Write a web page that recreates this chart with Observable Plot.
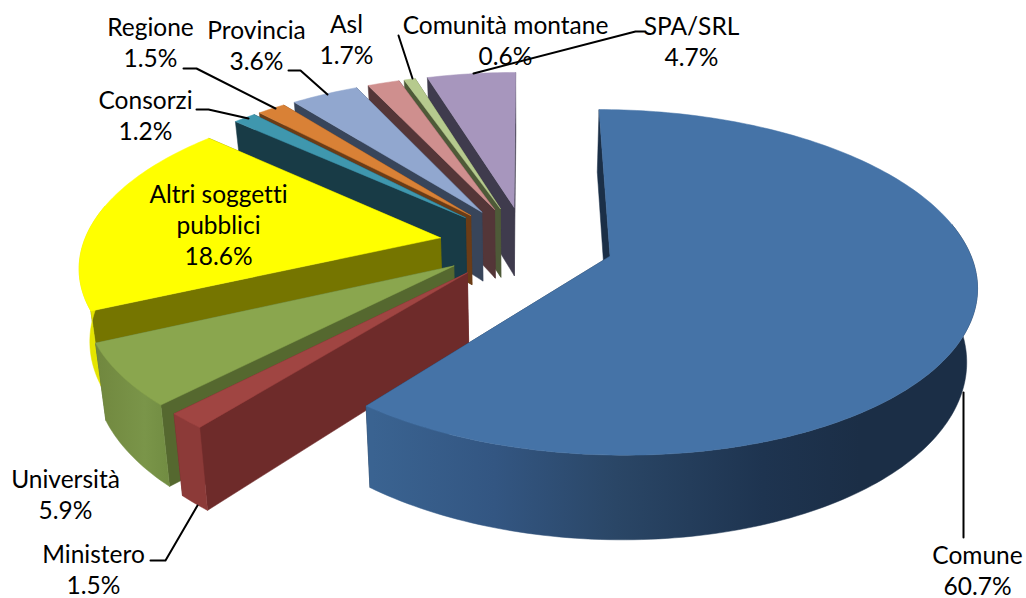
<!DOCTYPE html>
<html>
<head>
<meta charset="utf-8">
<script src="https://cdn.jsdelivr.net/npm/d3@7"></script>
<script src="https://cdn.jsdelivr.net/npm/@observablehq/plot@0.6"></script>
<style>html,body{margin:0;padding:0;background:#fff}svg{display:block}text{font-variant-ligatures:none}</style>
</head>
<body>
<div id="chart"></div>
<script>
const categories = ["Comune","Ministero","Università","Altri soggetti\npubblici","Consorzi","Regione","Provincia","Asl","Comunità montane","SPA/SRL"];
const values = [60.7,1.5,5.9,18.6,1.2,1.5,3.6,1.7,0.6,4.7];

// styles
const topColors = ["#4573a7","#a04542","#8aa64e","#ffff00","#3f97ae","#d98136","#91a7cf","#cf8f8e","#b6ca8e","#a796bd"];
const cutColors = ["#1b2f47","#6e2b2a","#55682f","#757500","#183b46","#6b3c16","#38455a","#543638","#4e5a38","#3f3b4d"];
const outerColors = ["url(#blueWall)","#8c3a38","url(#greenWall)","#e5e500","#24586a","#a8602a","#6f84a8","#a06e6e","#8fa06c","#7f7294"];

// projection of the tilted pie
const cx = 526, cy = 243, A = 357, B = 165, kx = 0.15, ky = 0.15, explodeU = 0.245, explodeV = 0.23, depth = 71, shrink = 0.024;
const project = (u, v) => ({x: cx + A*u/(1 - kx*v), y: cy + B*v/(1 - ky*v)});
const lower = (u, v) => {
  const p = project(u, v);
  return {x: cx + (p.x - cx)*(1 - shrink), y: p.y + depth/(1 - ky*v)};
};

const total = d3.sum(values);
let acc = 0;
const slices = values.map((val, i) => {
  const a0 = acc/total*2*Math.PI; acc += val;
  const a1 = acc/total*2*Math.PI;
  const mid = (a0 + a1)/2;
  const ox = explodeU*Math.sin(mid), oy = -explodeV*Math.cos(mid);
  const n = Math.max(3, Math.ceil((a1 - a0)/0.02));
  const angles = d3.range(n + 1).map(j => a0 + (a1 - a0)*j/n);
  const point = a => [ox + Math.sin(a), oy - Math.cos(a)];
  return {i, apex: [ox, oy], arc: angles.map(point), front: angles.filter(a => Math.cos(a) < 0.2).map(point)};
});

const polygon = (pts, fill) => Plot.line([...pts, pts[0]], {x: "x", y: "y", fill, stroke: fill, strokeWidth: 0.5, curve: "linear"});

const faces = [];
[...slices].reverse().forEach(s => {
  const {i, apex, arc, front} = s, first = arc[0], last = arc[arc.length - 1];
  faces.push(polygon([project(...apex), project(...last), lower(...last), lower(...apex)], cutColors[i]));
  faces.push(polygon([project(...apex), project(...first), lower(...first), lower(...apex)], cutColors[i]));
  if (front.length > 1) faces.push(polygon([...front.map(p => project(...p)), ...front.map(p => lower(...p)).reverse()], outerColors[i]));
  faces.push(polygon([project(...apex), ...arc.map(p => project(...p))], topColors[i]));
});

// label layout, in picture pixels, in the order of categories
const labelX = [977,93,65,218,145,150,256,346,505,691];
const labelY = [569,568,493,224,114,41,44,38,39,40];
const labels = categories.map((c, i) => ({text: `${c}\n${values[i].toFixed(1)}%`, x: labelX[i], y: labelY[i]}));

const leaders = [
  [[963,392],[963,537]],
  [[197,505],[165,560],[150,560]],
  [[196,109],[208,109],[248,118]],
  [[183,68],[196,68],[275,108]],
  [[288,70],[300,70],[327,94]],
  [[398,35],[412,78]],
  [[473,73],[635,31],[645,31]]
];

const gradient = (id, x1, x2, stops) => () => {
  const defs = d3.create("svg:defs");
  const g = defs.append("linearGradient").attr("id", id).attr("gradientUnits", "userSpaceOnUse")
    .attr("x1", x1).attr("x2", x2).attr("y1", 0).attr("y2", 0);
  stops.forEach(([o, c]) => g.append("stop").attr("offset", o).attr("stop-color", c));
  return defs.node();
};

const chart = Plot.plot({
  width: 1026, height: 598, margin: 0,
  x: {domain: [0, 1026], range: [0, 1026], axis: null},
  y: {domain: [0, 598], range: [0, 598], axis: null},
  style: {background: "#fff"},
  marks: [
    gradient("blueWall", 372, 860, [[0,"#3a6391"],[0.25,"#335682"],[0.5,"#2a4666"],[0.8,"#1e3450"],[1,"#1b2e46"]]),
    gradient("greenWall", 98, 175, [[0,"#71883f"],[0.6,"#7a9549"],[1,"#6f8a40"]]),
    ...faces,
    ...leaders.map(l => Plot.line(l.map(([x, y]) => ({x, y})), {x: "x", y: "y", stroke: "#000", strokeWidth: 2, curve: "linear"})),
    Plot.text(labels, {x: "x", y: "y", text: "text", fontSize: 24.5, lineHeight: 1.265, fontFamily: "Lato", fill: "#000", textAnchor: "middle", lineAnchor: "middle"})
  ]
});
document.getElementById("chart").appendChild(chart);
</script>
</body>
</html>
